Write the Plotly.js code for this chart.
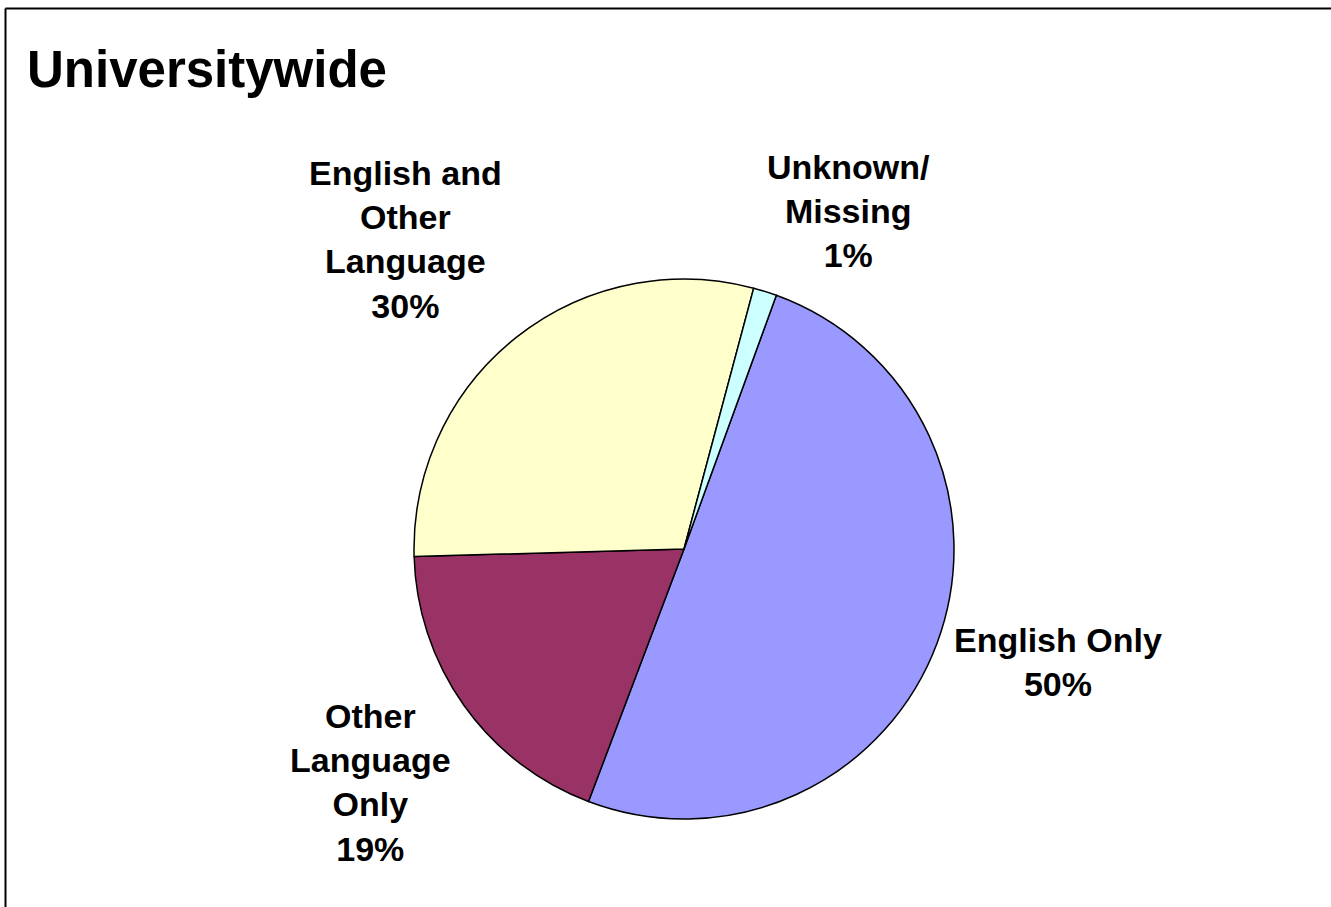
<!DOCTYPE html>
<html>
<head>
<meta charset="utf-8">
<script src="https://cdn.plot.ly/plotly-3.0.1.min.js"></script>
<style>
  html, body { margin: 0; padding: 0; background: #fff; }
  #chart { width: 1331px; height: 907px; }
</style>
</head>
<body>
<div id="chart"></div>
<script>
// ---- data ----
const categories = ["English Only", "Other Language Only", "English and Other Language", "Unknown/Missing"];
const displayLabels = ["English Only", "Other<br>Language<br>Only", "English and<br>Other<br>Language", "Unknown/<br>Missing"];
const values = [50.2, 18.8, 29.6, 1.4];
const sliceColors = ["#9999FF", "#993366", "#FFFFCC", "#CCFFFF"];
const chartTitle = "Universitywide";

// ---- layout helpers (pixel -> paper) ----
const W = 1331, H = 907;
const px = x => x / W;
const py = y => 1 - y / H;

const cx = 684, cy = 549, R = 270;

const total = values.reduce((a, b) => a + b, 0);
const labelPos = [
  [1058, 662],
  [371, 782],
  [405, 239],
  [848, 211]
];

const annotations = categories.map((c, i) => ({
  xref: 'paper', yref: 'paper',
  x: px(labelPos[i][0]), y: py(labelPos[i][1]),
  xanchor: 'center', yanchor: 'middle',
  text: '<b>' + displayLabels[i] + '<br>' + Math.round(values[i] / total * 100) + '%</b>',
  showarrow: false,
  align: 'center',
  font: { family: 'Liberation Sans, Arial, sans-serif', size: 34, color: '#000' }
}));

const trace = {
  type: 'pie',
  labels: categories,
  values: values,
  sort: false,
  direction: 'clockwise',
  rotation: 20,
  textinfo: 'none',
  hoverinfo: 'label+percent',
  marker: { colors: sliceColors, line: { color: '#000', width: 1.5 } },
  domain: { x: [px(cx - R), px(cx + R)], y: [py(cy + R), py(cy - R)] },
  showlegend: false
};

const layout = {
  width: W, height: H,
  margin: { l: 0, r: 0, t: 0, b: 0 },
  paper_bgcolor: '#fff',
  showlegend: false,
  title: {
    text: '<b>' + chartTitle + '</b>',
    xref: 'paper', yref: 'paper',
    x: px(27), xanchor: 'left',
    y: py(69), yanchor: 'middle',
    font: { family: 'Liberation Sans, Arial, sans-serif', size: 51, color: '#000' }
  },
  annotations: annotations,
  shapes: [
    { type: 'line', xref: 'paper', yref: 'paper', x0: px(5.5), x1: px(5.5), y0: 0, y1: py(8.5), line: { color: '#000', width: 2 } },
    { type: 'line', xref: 'paper', yref: 'paper', x0: px(5.5), x1: 1, y0: py(8.5), y1: py(8.5), line: { color: '#000', width: 2 } }
  ]
};

Plotly.newPlot('chart', [trace], layout, { displayModeBar: false, staticPlot: true });
</script>
</body>
</html>
